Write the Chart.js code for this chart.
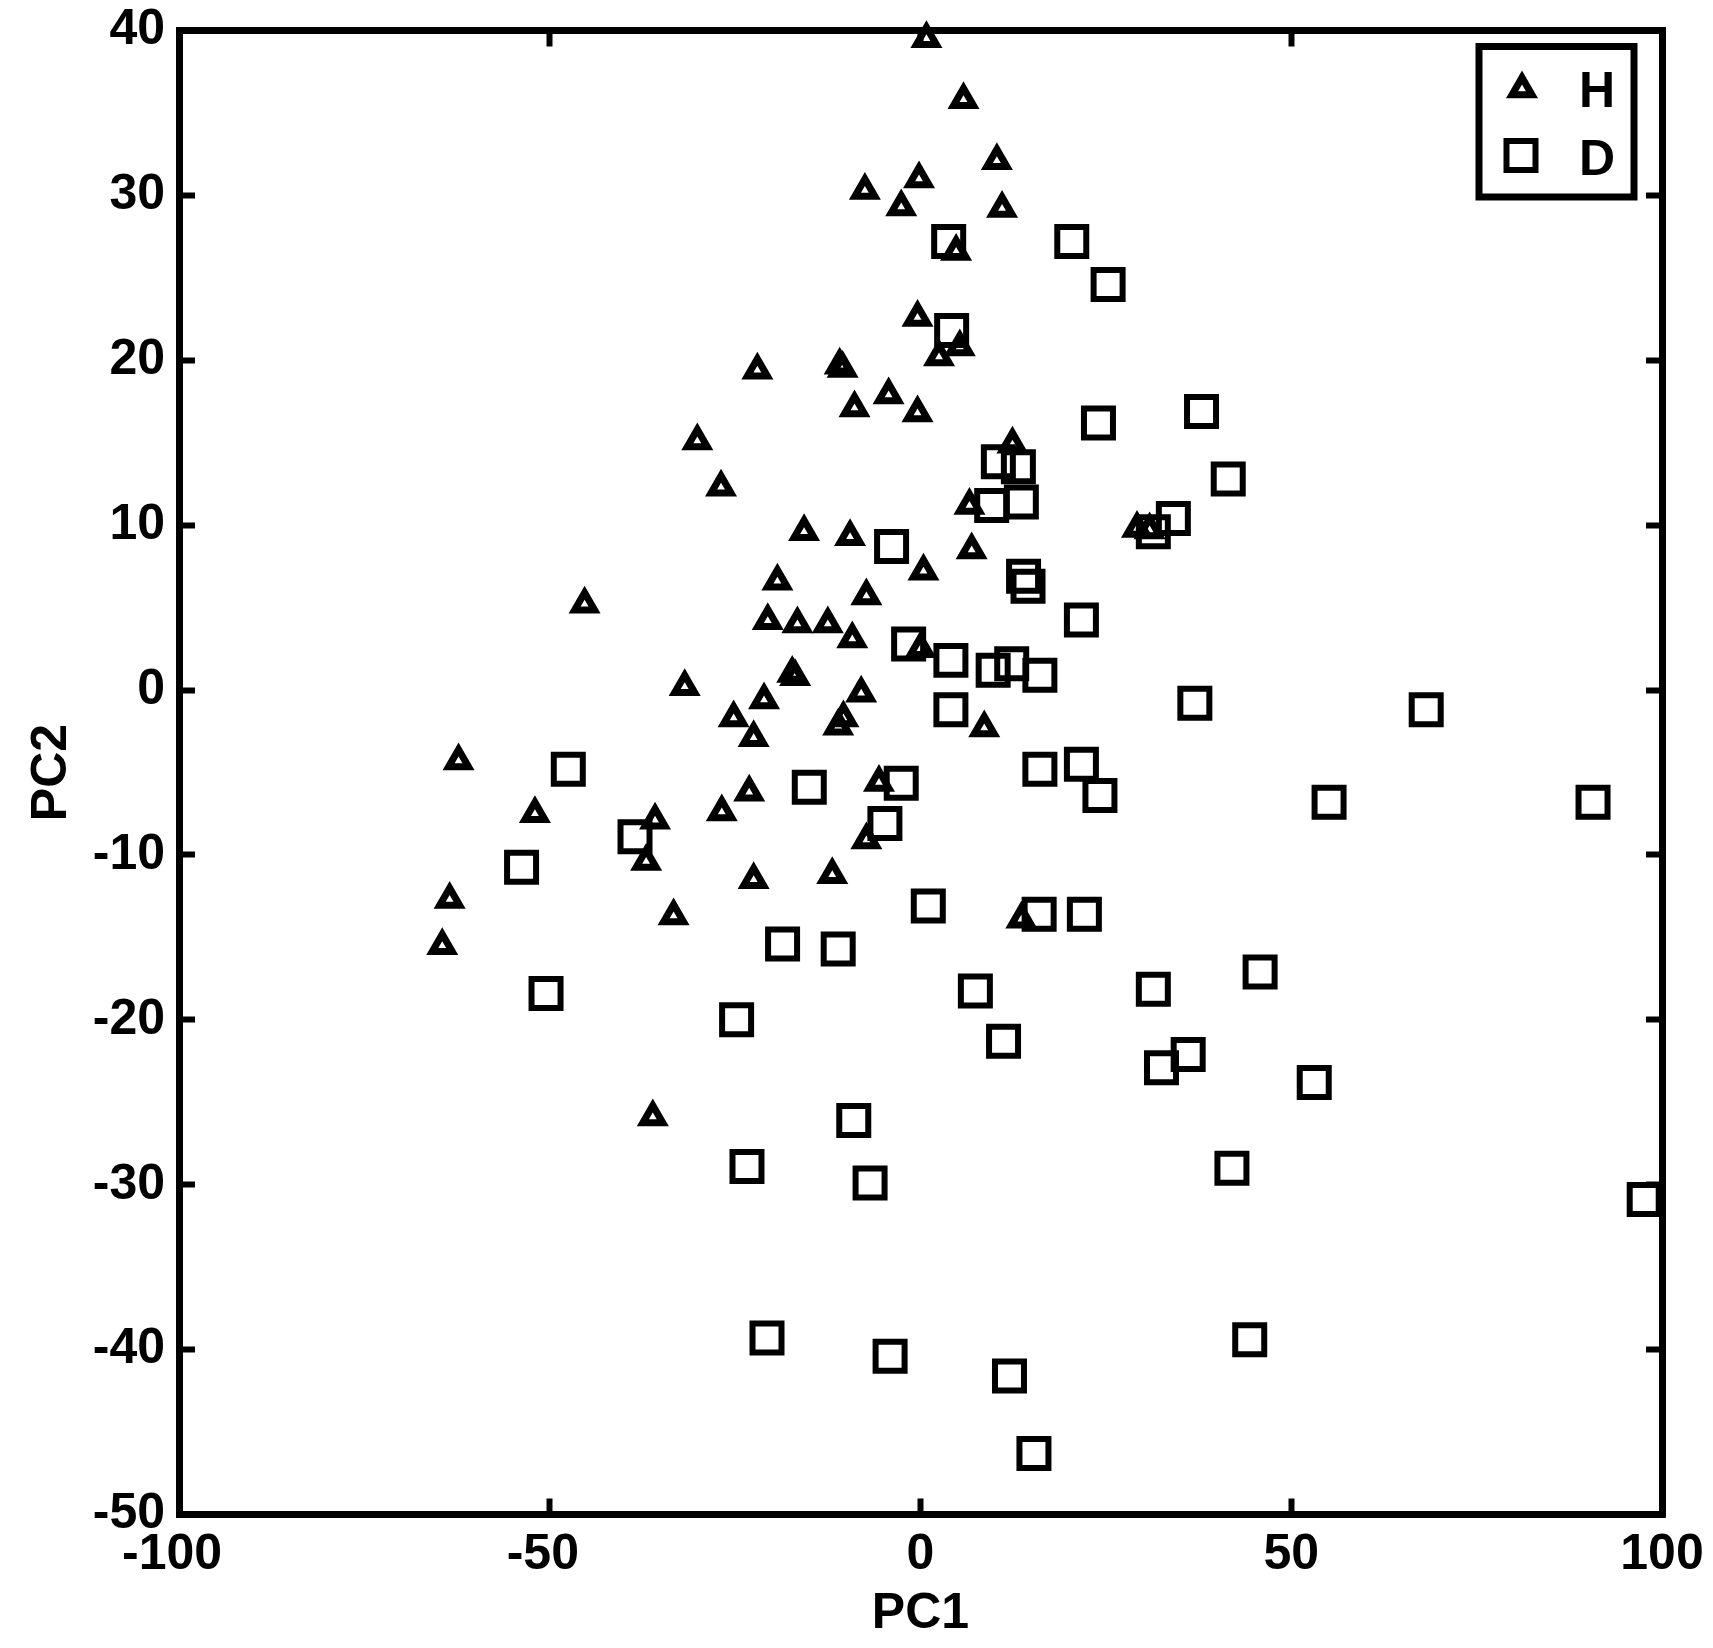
<!DOCTYPE html>
<html><head><meta charset="utf-8">
<script src="https://cdn.jsdelivr.net/npm/chart.js@4/dist/chart.umd.min.js"></script>
<style>html,body{margin:0;padding:0;background:#fff}#wrap{width:1713px;height:1648px;position:relative}</style>
</head><body><div id="wrap"><canvas id="c" width="1713" height="1648"></canvas></div>
<script>
const seriesNames = ['H', 'D'];
const xTicks = [-100, -50, 0, 50, 100];
const xTickLabels = ['-100', '-50', '0', '50', '100'];
const yTicks = [-50, -40, -30, -20, -10, 0, 10, 20, 30, 40];
const yTickLabels = ['-50', '-40', '-30', '-20', '-10', '0', '10', '20', '30', '40'];
const xTitle = 'PC1';
const yTitle = 'PC2';

const hX = [0.8, 5.8, 10.3, -7.5, -0.2, -2.6, 11.0, 4.8, -0.4, 5.3, 2.5, -22.0, -10.9, -10.5, -4.3, -8.9, -0.4, -30.1, -26.9, 12.4,
            6.6, -15.7, -9.5, 29.2, 30.9, 0.4, 6.9, -45.3, -19.3, -7.3, -20.6, -16.6, -12.5, -9.2, -17.3, -16.9, -31.8, -21.1, -8.0, 0.0,
            -25.2, -22.5, -10.4, -11.1, 8.6, -62.3, -23.1, -5.6, -52.0, -26.8, -35.8, -37.0, -7.3, -22.5, -11.9, -63.5, -64.5, -33.3, 13.6, -36.1];
const hY = [39.5, 35.8, 32.1, 30.3, 31.0, 29.3, 29.2, 26.6, 22.6, 20.8, 20.2, 19.4, 19.7, 19.5, 17.9, 17.1, 16.8, 15.1, 12.3, 14.9,
            11.2, 9.6, 9.3, 9.8, 9.7, 7.2, 8.5, 5.2, 6.6, 5.7, 4.2, 4.0, 4.0, 3.1, 1.0, 0.8, 0.2, -0.6, -0.2, 2.5,
            -1.7, -2.9, -1.7, -2.2, -2.3, -4.3, -6.2, -5.6, -7.5, -7.4, -7.9, -10.4, -9.1, -11.5, -11.2, -12.7, -15.5, -13.7, -13.9, -25.9];

const dX = [3.8, 20.4, 25.3, 4.2, 24.0, 37.9, 10.5, 13.2, 41.5, 9.6, 13.6, 34.1, 31.4, -3.9, 13.9, 14.5, 21.7, -1.6, 4.1, 9.8,
            12.3, 16.1, 37.0, 68.2, 4.1, -47.5, -15.0, -2.6, 16.1, 21.7, 24.2, 55.1, 90.7, -38.5, -4.8, -53.8, 1.05, 16.0, 22.1, -18.6,
            -11.1, -50.5, 7.4, 31.4, 45.8, -24.8, 11.2, 32.5, 36.1, 53.1, -9.0, -23.4, -6.8, 42.0, 97.6, -20.7, -4.1, 44.4, 12.0, 15.3];
const dY = [27.2, 27.2, 24.6, 21.8, 16.2, 16.9, 13.85, 13.55, 12.8, 11.2, 11.4, 10.4, 9.6, 8.7, 6.9, 6.3, 4.25, 2.8, 1.8, 1.2,
            1.6, 0.9, -0.8, -1.2, -1.2, -4.8, -5.9, -5.65, -4.8, -4.5, -6.4, -6.8, -6.8, -8.9, -8.1, -10.75, -13.1, -13.6, -13.6, -15.4,
            -15.7, -18.4, -18.25, -18.15, -17.1, -20.0, -21.3, -22.9, -22.1, -23.8, -26.1, -28.9, -29.9, -29.0, -30.9, -39.3, -40.4, -39.4, -41.6, -46.3];

const FONT = "'Liberation Sans', Arial, Helvetica, sans-serif";
const WEIGHT = 'bold';
const toPts = (xs, ys) => xs.map((x, i) => ({x: x, y: ys[i]}));

const TRI_R = 11.5, TRI_W = 7, SQ_R = 20.5, SQ_W = 6;

function drawTri(ctx, x, y, r) {
  ctx.beginPath();
  for (let k = 0; k < 3; k++) {
    const a = k * 2 * Math.PI / 3;
    const px = x + Math.sin(a) * r, py = y - Math.cos(a) * r;
    if (k === 0) ctx.moveTo(px, py); else ctx.lineTo(px, py);
  }
  ctx.closePath();
  ctx.stroke();
}
function drawSq(ctx, x, y, r) {
  const s = Math.SQRT1_2 * r;
  ctx.beginPath();
  ctx.rect(x - s, y - s, 2 * s, 2 * s);
  ctx.stroke();
}

const boxLegend = {
  id: 'boxLegend',
  afterDraw(chart) {
    const ctx = chart.ctx;
    ctx.save();
    ctx.lineWidth = 7;
    ctx.strokeStyle = '#000';
    ctx.fillStyle = '#fff';
    ctx.beginPath();
    ctx.rect(1479, 46.5, 155, 150.5);
    ctx.fill();
    ctx.stroke();
    ctx.lineWidth = TRI_W;
    drawTri(ctx, 1522, 89, TRI_R);
    ctx.lineWidth = SQ_W;
    drawSq(ctx, 1521, 155.5, SQ_R);
    ctx.fillStyle = '#000';
    ctx.font = WEIGHT + ' 50px ' + FONT;
    ctx.textAlign = 'left';
    ctx.textBaseline = 'alphabetic';
    ctx.fillText(seriesNames[0], 1579, 106.5);
    ctx.fillText(seriesNames[1], 1579, 175);
    ctx.restore();
  }
};

const zeroPad = s => { s.paddingLeft = 0; s.paddingRight = 0; s.paddingTop = 0; s.paddingBottom = 0; };
const gridOpts = {drawOnChartArea: false, drawTicks: true, tickLength: -16, tickWidth: 6, tickColor: '#000'};
const borderOpts = {display: true, color: '#000', width: 7};
const tickFont = {family: FONT, size: 50, weight: WEIGHT};
const titleFont = {family: FONT, size: 50, weight: WEIGHT, lineHeight: 1.2};

// negative x labels sit slightly left of their tick in the original (trailing space shifts centre)
const xLabel = v => { const t = xTickLabels[xTicks.indexOf(v)]; return v < 0 ? t + ' ' : t; };

new Chart(document.getElementById('c'), {
  type: 'scatter',
  data: {
    datasets: [
      {label: seriesNames[0], data: toPts(hX, hY), pointStyle: 'triangle', pointRadius: TRI_R, pointHoverRadius: TRI_R,
       pointBorderWidth: TRI_W, pointHoverBorderWidth: TRI_W, borderColor: '#000', backgroundColor: 'rgba(0,0,0,0)', clip: false,
       xAxisID: 'x', yAxisID: 'y'},
      {label: seriesNames[1], data: toPts(dX, dY), pointStyle: 'rect', pointRadius: SQ_R, pointHoverRadius: SQ_R,
       pointBorderWidth: SQ_W, pointHoverBorderWidth: SQ_W, borderColor: '#000', backgroundColor: 'rgba(0,0,0,0)', clip: false,
       xAxisID: 'x', yAxisID: 'y'}
    ]
  },
  options: {
    responsive: false,
    animation: false,
    events: [],
    layout: {padding: {left: 0, right: 51, top: 30.5, bottom: 0}},
    plugins: {legend: {display: false}, tooltip: {enabled: false}},
    scales: {
      x: {
        type: 'linear', position: 'bottom', min: -100, max: 100,
        afterBuildTicks: s => { s.ticks = xTicks.map(v => ({value: v})); },
        afterFit: s => { s.height = 133.5; zeroPad(s); },
        grid: gridOpts, border: borderOpts,
        ticks: {color: '#000', font: tickFont, padding: 27, maxRotation: 0, autoSkip: false, callback: xLabel},
        title: {display: true, text: xTitle, color: '#000', font: titleFont, padding: {top: 0, bottom: 4}}
      },
      y: {
        type: 'linear', position: 'left', min: -50, max: 40,
        afterBuildTicks: s => { s.ticks = yTicks.map(v => ({value: v})); },
        afterFit: s => { s.width = 179; zeroPad(s); },
        grid: gridOpts, border: borderOpts,
        ticks: {color: '#000', font: tickFont, padding: 30, autoSkip: false,
                callback: (v) => yTickLabels[yTicks.indexOf(v)]},
        title: {display: true, text: yTitle, color: '#000', font: titleFont, padding: {top: 22, bottom: 0}}
      },
      x2: {
        type: 'linear', axis: 'x', position: 'top', min: -100, max: 100,
        afterBuildTicks: s => { s.ticks = xTicks.map(v => ({value: v})); },
        afterFit: s => { s.height = 0; zeroPad(s); },
        grid: gridOpts, border: borderOpts,
        ticks: {display: false}
      },
      y2: {
        type: 'linear', axis: 'y', position: 'right', min: -50, max: 40,
        afterBuildTicks: s => { s.ticks = yTicks.map(v => ({value: v})); },
        afterFit: s => { s.width = 0; zeroPad(s); },
        grid: gridOpts, border: borderOpts,
        ticks: {display: false}
      }
    }
  },
  plugins: [boxLegend]
});
</script>
</body></html>
